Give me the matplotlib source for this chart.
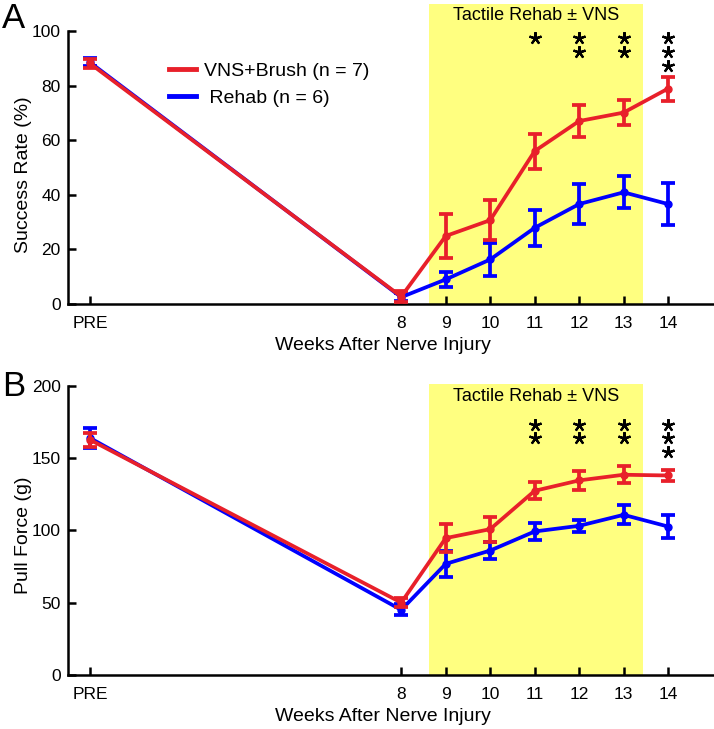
import numpy as np
import matplotlib
matplotlib.use("Agg")
import matplotlib.pyplot as plt
from matplotlib.lines import Line2D

plt.rcParams['font.family'] = ['Liberation Sans', 'DejaVu Sans']

# x positions: PRE, then weeks 8-14
weeks = [1, 8, 9, 10, 11, 12, 13, 14]
tick_labels = ["PRE", "8", "9", "10", "11", "12", "13", "14"]

# panel A - success rate (%)
vns_rate = [88.1, 2.7, 24.9, 30.7, 56.0, 67.0, 70.1, 78.9]
vns_rate_err = [1.5, 2.0, 8.0, 7.3, 6.4, 5.8, 4.7, 4.4]
rehab_rate = [88.5, 2.5, 9.0, 16.3, 27.9, 36.6, 40.9, 36.6]
rehab_rate_err = [1.5, 1.5, 2.9, 5.9, 6.6, 7.3, 5.9, 7.6]

# panel B - pull force (g)
vns_force = [162.6, 50.0, 94.6, 100.8, 127.3, 134.5, 138.4, 137.9]
vns_force_err = [5.0, 3.0, 9.8, 8.6, 5.9, 6.4, 6.0, 3.8]
rehab_force = [163.8, 45.0, 76.8, 86.0, 99.2, 103.1, 110.7, 102.6]
rehab_force_err = [7.0, 3.8, 8.8, 5.7, 5.8, 4.3, 6.6, 7.7]

# significance stars: (week, number of stars)
stars_a = [(11, 1), (12, 2), (13, 2), (14, 3)]
stars_b = [(11, 2), (12, 2), (13, 2), (14, 3)]

rehab_window = (8.63, 13.44)

RED = "#e8202a"
BLUE = "#0000ff"
YELLOW = "#ffff80"

fig = plt.figure(figsize=(7.14, 7.29), dpi=100)
axA = fig.add_axes([0.0948, 0.583, 0.9032, 0.412])
axB = fig.add_axes([0.0948, 0.0741, 0.9032, 0.3989])


def draw_panel(ax, vns, vns_err, reh, reh_err, ytop, ymax, yticks, ylabel,
               ylab_y, text_y, star_top, star_step, stars):
    ax.axvspan(rehab_window[0], rehab_window[1], ymin=0, ymax=1,
               color=YELLOW, lw=0, zorder=0)
    ax.errorbar(weeks, reh, yerr=reh_err, color=BLUE, lw=2.7, elinewidth=2.7,
                capsize=5, capthick=2.7, marker="o", ms=5, zorder=3)
    ax.errorbar(weeks, vns, yerr=vns_err, color=RED, lw=2.7, elinewidth=2.7,
                capsize=5, capthick=2.7, marker="o", ms=5, zorder=4)
    ax.text(sum(rehab_window) / 2, text_y, "Tactile Rehab \u00b1 VNS",
            ha="center", va="center", fontsize=13)
    for wk, n in stars:
        ys = [star_top - i * star_step for i in range(n)]
        ax.plot([wk] * n, ys, ls="none", marker=(5, 2, 0), ms=9, mew=1.6,
                color="black", zorder=5)
    ax.set_xlim(0.5, 15)
    ax.set_ylim(0, ymax)
    ax.set_xticks(weeks)
    ax.set_xticklabels(tick_labels)
    ax.set_yticks(yticks)
    ax.spines["top"].set_visible(False)
    ax.spines["right"].set_visible(False)
    ax.spines["left"].set_bounds(0, ytop)
    ax.spines["left"].set_linewidth(1.8)
    ax.spines["bottom"].set_linewidth(1.8)
    ax.tick_params(direction="in", length=6, width=1.8, labelsize=12.5)
    ax.tick_params(axis="x", pad=9)
    ax.tick_params(axis="y", pad=5)
    ax.set_xlabel("Weeks After Nerve Injury", fontsize=14, labelpad=4)
    ax.xaxis.label.set_x(0.489)
    ax.set_ylabel(ylabel, fontsize=14)
    ax.yaxis.set_label_coords(-0.055, ylab_y)


draw_panel(axA, vns_rate, vns_rate_err, rehab_rate, rehab_rate_err,
           100, 110, [0, 20, 40, 60, 80, 100], "Success Rate (%)", 0.43,
           105.7, 97.5, 5.2, stars_a)
draw_panel(axB, vns_force, vns_force_err, rehab_force, rehab_force_err,
           200, 201, [0, 50, 100, 150, 200], "Pull Force (g)", 0.48,
           192.6, 173, 9.5, stars_b)

handles = [Line2D([], [], color=RED, lw=3.5), Line2D([], [], color=BLUE, lw=3.5)]
axA.legend(handles, ["VNS+Brush (n = 7)", " Rehab (n = 6)"], loc="upper left",
           bbox_to_anchor=(0.13, 0.863), frameon=False, fontsize=14,
           handlelength=1.4, handletextpad=0.4, labelspacing=0.5)

fig.text(0.003, 0.997, "A", fontsize=25, ha="left", va="top")
fig.text(0.003, 0.493, "B", fontsize=25, ha="left", va="top")

fig.savefig("out.png", dpi=100)
